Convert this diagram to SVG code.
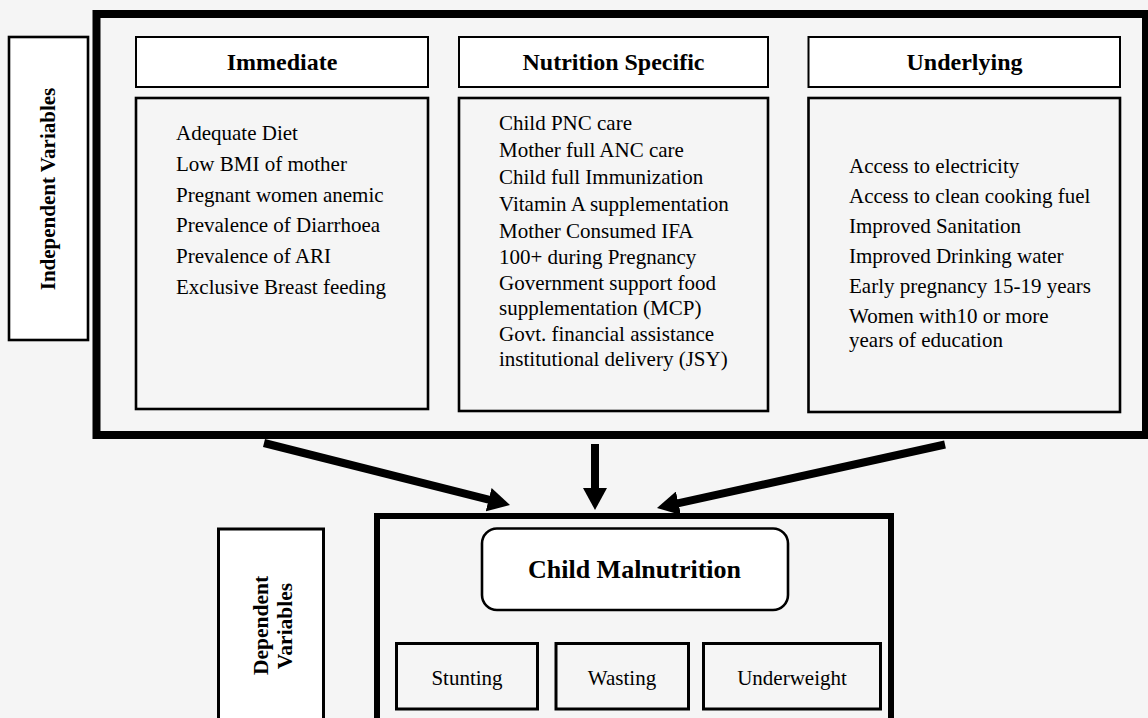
<svg xmlns="http://www.w3.org/2000/svg" width="1148" height="718" viewBox="0 0 1148 718" font-family="'Liberation Serif', 'DejaVu Serif', serif">
<defs>
<style>
text{font-family:'Liberation Serif','DejaVu Serif',serif;fill:#000}
.b{font-weight:bold}
.hd{font-size:24px;font-weight:bold;text-anchor:middle}
.li{font-size:21px}
.hbox{fill:#fff;stroke:#000;stroke-width:2}
.bbox{fill:#f5f5f5;stroke:#000;stroke-width:2.6}
.sbox{fill:#f5f5f5;stroke:#000;stroke-width:3}
.arr{stroke:#000;stroke-width:8;fill:none;marker-end:url(#ah)}
.stub{stroke:#000;stroke-width:4}
</style>
<marker id="ah" viewBox="0 0 22 24" markerWidth="22" markerHeight="24" markerUnits="userSpaceOnUse" refX="2" refY="12" orient="auto">
<path d="M0,0 L22,12 L0,24 z" fill="#000"/>
</marker>
</defs>
<rect x="0" y="0" width="1148" height="718" fill="#f5f5f5"/>

<g id="independent-frame">
<rect x="96.5" y="14" width="1049.5" height="421" fill="#f5f5f5" stroke="#000" stroke-width="8"/>
</g>

<g id="independent-label">
<rect x="9" y="37" width="79" height="303" fill="#fff" stroke="#000" stroke-width="2.6"/>
<text class="b" font-size="21" text-anchor="middle" transform="translate(55,189) rotate(-90)">Independent Variables</text>
</g>

<g id="immediate">
<rect class="hbox" x="136" y="37" width="292" height="50"/>
<text class="hd" x="282" y="70">Immediate</text>
<rect class="bbox" x="136" y="98" width="292" height="311"/>
<text class="li" x="176" y="140">Adequate Diet</text>
<text class="li" x="176" y="170.8">Low BMI of mother</text>
<text class="li" x="176" y="201.6">Pregnant women anemic</text>
<text class="li" x="176" y="232.4">Prevalence of Diarrhoea</text>
<text class="li" x="176" y="263.2">Prevalence of ARI</text>
<text class="li" x="176" y="294">Exclusive Breast feeding</text>
</g>

<g id="nutrition-specific">
<rect class="hbox" x="459" y="37" width="309" height="50"/>
<text class="hd" x="613.5" y="70">Nutrition Specific</text>
<rect class="bbox" x="459" y="98" width="309" height="313"/>
<text class="li" x="499" y="129.5">Child PNC care</text>
<text class="li" x="499" y="156.5">Mother full ANC care</text>
<text class="li" x="499" y="183.5">Child full Immunization</text>
<text class="li" x="499" y="210.5">Vitamin A supplementation</text>
<text class="li" x="499" y="237.5">Mother Consumed IFA</text>
<text class="li" x="499" y="263.5">100+ during Pregnancy</text>
<text class="li" x="499" y="289.5">Government support food</text>
<text class="li" x="499" y="314.5">supplementation (MCP)</text>
<text class="li" x="499" y="340.5">Govt. financial assistance</text>
<text class="li" x="499" y="365.5">institutional delivery (JSY)</text>
</g>

<g id="underlying">
<rect class="hbox" x="808.5" y="37" width="311.5" height="50"/>
<text class="hd" x="964.5" y="70">Underlying</text>
<rect class="bbox" x="808.5" y="98" width="311.5" height="314"/>
<text class="li" x="849" y="172.7">Access to electricity</text>
<text class="li" x="849" y="202.7">Access to clean cooking fuel</text>
<text class="li" x="849" y="232.7">Improved Sanitation</text>
<text class="li" x="849" y="262.7">Improved Drinking water</text>
<text class="li" x="849" y="292.7">Early pregnancy 15-19 years</text>
<text class="li" x="849" y="322.7">Women with10 or more</text>
<text class="li" x="849" y="346.7">years of education</text>
</g>

<g id="connectors">
<line class="arr" x1="264" y1="443" x2="490.6" y2="500.2"/>
<line class="arr" x1="595" y1="444" x2="595" y2="490"/>
<line class="arr" x1="945" y1="444.5" x2="676.5" y2="503.7"/>
<line class="stub" x1="494" y1="611" x2="494" y2="640"/>
<line class="stub" x1="610.5" y1="611" x2="610.5" y2="638"/>
<line class="stub" x1="775" y1="611" x2="775" y2="638"/>
</g>

<g id="dependent-frame">
<rect x="377" y="516" width="514" height="260" fill="#f5f5f5" stroke="#000" stroke-width="6"/>
</g>

<g id="dependent-label">
<rect x="218.5" y="529" width="105" height="220" fill="#fff" stroke="#000" stroke-width="3"/>
<text class="b" font-size="21.5" text-anchor="middle" transform="translate(268,625.5) rotate(-90)">Dependent</text>
<text class="b" font-size="21.5" text-anchor="middle" transform="translate(291.5,626) rotate(-90)">Variables</text>
</g>

<g id="child-malnutrition">
<rect x="482" y="528.5" width="306" height="81.5" rx="15" ry="15" fill="#fff" stroke="#000" stroke-width="2.6"/>
<text class="b" font-size="26" text-anchor="middle" x="634.5" y="578">Child Malnutrition</text>
</g>

<g id="stunting">
<rect class="sbox" x="396.5" y="643.5" width="141" height="65.5"/>
<text class="li" text-anchor="middle" x="467" y="685">Stunting</text>
</g>

<g id="wasting">
<rect class="sbox" x="556" y="643.5" width="132.5" height="65.5"/>
<text class="li" text-anchor="middle" x="622" y="685">Wasting</text>
</g>

<g id="underweight">
<rect class="sbox" x="703.5" y="643.5" width="177" height="65.5"/>
<text class="li" text-anchor="middle" x="792" y="685">Underweight</text>
</g>
</svg>
